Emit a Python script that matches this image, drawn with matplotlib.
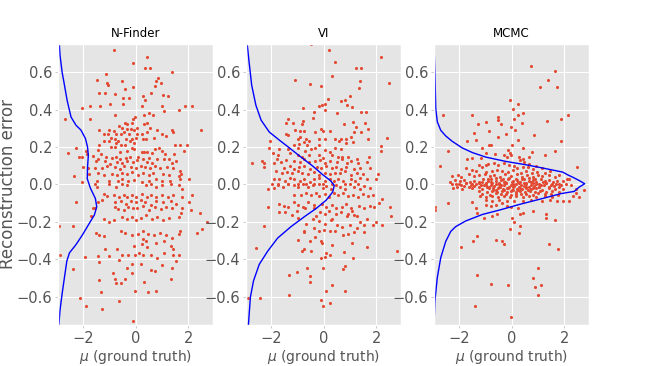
import matplotlib
matplotlib.use("Agg")
import matplotlib.pyplot as plt

plt.style.use("ggplot")

# ------------------------------
# data
# ------------------------------
titles = ["N-Finder", "VI", "MCMC"]
y_ticks = [-0.6, -0.4, -0.2, 0.0, 0.2, 0.4, 0.6]
x_ticks = [-2, 0, 2]

# scatter points (mu, reconstruction error)
nf_points = [
    (-0.82, 0.72), (0.41, 0.68), (-0.10, 0.65), (0.35, 0.62), (0.53, 0.62), (1.39, 0.60),
    (-1.15, 0.59), (0.86, 0.57), (-1.47, 0.56), (-0.53, 0.55), (0.76, 0.55), (0.96, 0.54),
    (-1.11, 0.54), (-1.05, 0.53), (0.72, 0.525), (-0.10, 0.52), (-0.41, 0.51), (-1.42, 0.49),
    (-1.18, 0.49), (-0.78, 0.485), (0.59, 0.49), (1.04, 0.48), (1.23, 0.47), (0.27, 0.47),
    (-0.49, 0.46), (-0.27, 0.46), (0.35, 0.45), (-0.49, 0.43), (0.23, 0.42), (-1.73, 0.42),
    (-1.35, 0.42), (-0.99, 0.43), (-2.05, 0.41), (1.00, 0.42), (1.87, 0.42), (2.15, 0.42),
    (1.66, 0.40), (1.06, 0.39), (-0.80, 0.37), (-2.71, 0.35), (-0.03, 0.36), (-0.10, 0.35),
    (0.51, 0.38), (0.32, 0.37), (0.67, 0.37), (-1.75, 0.35), (-0.43, 0.33), (-0.34, 0.32),
    (-0.14, 0.33), (0.41, 0.33), (0.33, 0.32), (0.04, 0.30), (-0.05, 0.29), (-0.19, 0.295),
    (-0.63, 0.31), (-0.53, 0.30), (-0.35, 0.295), (-1.39, 0.29), (-1.03, 0.29), (-0.84, 0.285),
    (-0.76, 0.27), (0.82, 0.29), (0.54, 0.30), (1.37, 0.29), (1.43, 0.28), (2.49, 0.29),
    (-1.22, 0.27), (-1.06, 0.27), (-0.56, 0.27), (-0.44, 0.28), (-0.25, 0.27), (0.04, 0.27),
    (0.22, 0.27), (0.44, 0.28), (0.71, 0.25), (1.01, 0.27), (1.14, 0.26), (-0.95, 0.25),
    (-0.81, 0.245), (-0.68, 0.23), (-0.38, 0.245), (-0.16, 0.24), (0.01, 0.25), (0.28, 0.24),
    (0.38, 0.245), (-1.23, 0.23), (-1.01, 0.23), (-0.76, 0.22), (-0.57, 0.21), (-0.42, 0.21),
    (-0.23, 0.23), (-0.08, 0.22), (1.48, 0.21), (1.67, 0.21), (1.95, 0.21), (-1.41, 0.21),
    (-0.96, 0.20), (-0.78, 0.20), (-2.28, 0.195), (-0.16, 0.195), (-0.08, 0.19), (0.75, 0.19),
    (0.90, 0.195), (1.01, 0.18), (-2.58, 0.17), (-1.89, 0.18), (-1.86, 0.165), (-1.43, 0.185),
    (-1.33, 0.16), (-0.59, 0.175), (-0.34, 0.18), (0.23, 0.175), (0.33, 0.175), (0.44, 0.175),
    (0.63, 0.17), (1.10, 0.16), (1.47, 0.16), (1.84, 0.18), (-2.15, 0.145), (-2.04, 0.145),
    (-1.65, 0.15), (-1.43, 0.135), (-1.14, 0.145), (-0.92, 0.14), (-0.76, 0.145), (-0.59, 0.135),
    (-0.39, 0.14), (-0.23, 0.145), (0.10, 0.145), (0.28, 0.135), (0.51, 0.14), (0.80, 0.135),
    (1.08, 0.135), (1.27, 0.135), (-1.51, 0.125), (-1.19, 0.125), (-0.99, 0.11), (-0.70, 0.12),
    (-0.51, 0.115), (-0.32, 0.125), (-0.10, 0.12), (0.06, 0.13), (0.41, 0.12), (0.61, 0.115),
    (1.37, 0.115), (1.52, 0.125), (-2.03, 0.095), (-1.82, 0.09), (-1.54, 0.09), (-1.27, 0.09),
    (-1.08, 0.10), (-0.78, 0.095), (-0.61, 0.085), (-0.44, 0.10), (-0.18, 0.095), (0.00, 0.09),
    (0.19, 0.10), (0.35, 0.095), (0.54, 0.09), (0.72, 0.10), (0.91, 0.09), (1.20, 0.095),
    (1.42, 0.09), (1.70, 0.07), (1.71, 0.055), (-2.34, 0.045), (-1.77, 0.055), (-1.46, 0.06),
    (-1.23, 0.05), (-0.91, 0.055), (-0.72, 0.05), (-0.51, 0.06), (-0.32, 0.055), (-0.15, 0.065),
    (0.09, 0.05), (0.28, 0.06), (0.49, 0.05), (0.66, 0.06), (1.04, 0.055), (1.27, 0.05),
    (1.65, 0.045), (-2.06, 0.012), (-1.47, 0.016), (-1.04, 0.02), (-0.66, 0.02), (-0.52, 0.027),
    (-0.28, 0.016), (-0.08, 0.025), (0.23, 0.012), (0.51, 0.02), (0.76, 0.027), (0.99, 0.02),
    (1.30, 0.02), (1.67, 0.027), (2.03, 0.027),
    (-1.54, 0.00), (-1.47, -0.012), (-1.01, 0.00), (-0.76, -0.012), (-0.51, 0.00), (-0.32, -0.002),
    (0.38, -0.005), (0.57, 0.004), (0.76, -0.012), (0.99, -0.005), (1.33, 0.004), (1.65, -0.005),
    (1.77, -0.023), (-1.20, -0.05), (-1.08, -0.06), (-0.82, -0.058), (-0.63, -0.068), (-2.28, -0.093),
    (-0.44, -0.054), (-0.32, -0.067), (-0.15, -0.058), (0.00, -0.067), (0.23, -0.05), (0.41, -0.065),
    (0.57, -0.054), (0.76, -0.065), (1.01, -0.054), (1.24, -0.067), (1.42, -0.058), (1.77, -0.067),
    (2.15, -0.054), (-1.46, -0.093), (-1.29, -0.084), (-0.78, -0.096), (-0.57, -0.089), (-0.38, -0.103),
    (-0.19, -0.089), (0.00, -0.096), (0.19, -0.084), (0.35, -0.096), (0.57, -0.107), (0.76, -0.089),
    (1.04, -0.096), (1.33, -0.089), (1.52, -0.103), (2.03, -0.093), (-1.71, -0.17), (-1.65, -0.125),
    (-1.54, -0.128), (-0.78, -0.12), (-0.66, -0.13), (-0.44, -0.137), (-0.28, -0.12), (-0.10, -0.128),
    (0.06, -0.125), (0.28, -0.114), (0.51, -0.137), (0.73, -0.12), (0.95, -0.13), (1.14, -0.12),
    (1.37, -0.128), (1.75, -0.125), (2.09, -0.137), (2.43, -0.15), (-1.20, -0.184), (-1.01, -0.202),
    (-0.82, -0.19), (-0.53, -0.172), (-0.35, -0.184), (-0.15, -0.172), (0.00, -0.19), (0.19, -0.18),
    (0.38, -0.163), (0.61, -0.184), (0.82, -0.172), (1.04, -0.19), (1.27, -0.177), (1.65, -0.172),
    (1.71, -0.154), (1.67, -0.247), (2.34, -0.26), (2.51, -0.237), (2.72, -0.202), (-2.91, -0.22),
    (-2.41, -0.22), (-1.52, -0.26), (-1.42, -0.268), (-1.20, -0.277), (-0.57, -0.25), (-0.41, -0.26),
    (-0.13, -0.268), (0.10, -0.265), (0.28, -0.25), (0.48, -0.265), (0.70, -0.268), (0.91, -0.26),
    (1.14, -0.272), (1.39, -0.286), (1.65, -0.265), (0.28, -0.29), (0.38, -0.30), (0.23, -0.32),
    (0.44, -0.335), (0.76, -0.312), (1.08, -0.30), (1.33, -0.33), (1.42, -0.347), (-1.16, -0.347),
    (-0.70, -0.347), (-0.06, -0.33), (0.13, -0.365), (-0.53, -0.374), (-0.28, -0.377), (-0.03, -0.377),
    (0.28, -0.377), (0.57, -0.377), (0.82, -0.395), (1.08, -0.365), (1.42, -0.377), (1.65, -0.377),
    (-1.92, -0.388), (-1.46, -0.382), (-1.01, -0.382), (-0.63, -0.405), (-2.89, -0.377), (-1.42, -0.414),
    (-0.32, -0.447), (-0.13, -0.423), (-0.13, -0.475), (0.19, -0.426), (0.57, -0.458), (0.73, -0.461),
    (1.01, -0.43), (1.39, -0.444), (1.52, -0.409), (-2.38, -0.453), (-0.86, -0.47), (-0.78, -0.507),
    (-0.76, -0.525), (-1.39, -0.51), (-1.32, -0.572), (-0.57, -0.528), (-0.41, -0.507), (-0.03, -0.567),
    (0.32, -0.523), (0.48, -0.575), (0.78, -0.567), (1.33, -0.502), (-2.13, -0.607), (-1.90, -0.647),
    (-1.29, -0.663), (-0.63, -0.623), (-0.09, -0.73),
]

vi_points = [
    (-0.48, 0.748), (0.18, 0.72), (2.17, 0.68), (0.41, 0.655), (1.43, 0.623), (1.24, 0.62),
    (0.32, 0.577), (-1.10, 0.555), (1.38, 0.554), (2.47, 0.543), (-0.54, 0.534), (-0.09, 0.525),
    (1.35, 0.516), (1.01, 0.471), (0.15, 0.455), (0.80, 0.45), (0.64, 0.446), (0.06, 0.427),
    (-0.08, 0.423), (-0.20, 0.42), (0.89, 0.423), (1.07, 0.416), (-0.79, 0.409), (0.05, 0.396),
    (-0.39, 0.388), (0.52, 0.382), (1.40, 0.388), (1.62, 0.388), (-1.38, 0.352), (-1.17, 0.33),
    (-1.43, 0.327), (-0.43, 0.355), (1.11, 0.334), (-0.79, 0.338), (-0.84, 0.32), (0.76, 0.323),
    (1.58, 0.327), (1.22, 0.305), (1.69, 0.298), (-1.10, 0.288), (-0.90, 0.284), (-0.75, 0.284),
    (-0.10, 0.298), (-0.04, 0.284), (-0.33, 0.28), (0.25, 0.284), (-1.43, 0.27), (-1.35, 0.263),
    (1.17, 0.28), (1.43, 0.28), (-0.97, 0.241), (-0.68, 0.245), (-0.55, 0.234), (-0.89, 0.254),
    (-0.76, 0.227), (-0.20, 0.241), (0.03, 0.241), (-0.20, 0.213), (0.41, 0.245), (0.66, 0.245),
    (0.84, 0.245), (1.02, 0.252), (0.59, 0.234), (1.69, 0.245), (2.42, 0.248), (-2.05, 0.23),
    (0.83, 0.223), (1.12, 0.227), (-1.15, 0.209), (-0.93, 0.216), (-0.64, 0.209), (-2.08, 0.195),
    (2.17, 0.205), (2.17, 0.177), (-1.71, 0.191), (-1.38, 0.188), (-1.29, 0.17), (-0.99, 0.195),
    (-0.71, 0.18), (-0.48, 0.188), (-0.33, 0.195), (0.03, 0.182), (0.22, 0.173), (0.43, 0.195),
    (0.66, 0.188), (-1.76, 0.155), (-1.95, 0.17), (-0.99, 0.155), (-0.82, 0.148), (-0.55, 0.155),
    (-0.17, 0.159), (-0.04, 0.141), (0.31, 0.159), (0.54, 0.145), (0.71, 0.145), (0.94, 0.148),
    (1.27, 0.138), (1.71, 0.146), (-2.37, 0.127), (-2.27, 0.116), (-2.73, 0.116), (-1.91, 0.116),
    (-1.78, 0.134), (-1.63, 0.12), (-1.44, 0.13), (-1.12, 0.123), (-0.89, 0.12), (-0.74, 0.134),
    (-0.55, 0.12), (-0.33, 0.123), (-0.13, 0.13), (0.05, 0.116), (0.23, 0.127), (0.50, 0.12),
    (0.70, 0.134), (0.88, 0.116), (1.04, 0.127), (1.32, 0.113), (1.63, 0.12), (-2.27, 0.091),
    (-1.50, 0.088), (-1.30, 0.098), (-1.12, 0.084), (-0.93, 0.093), (-0.74, 0.098), (-0.51, 0.084),
    (-0.25, 0.091), (-0.10, 0.088), (0.09, 0.098), (0.31, 0.088), (0.48, 0.091), (0.66, 0.08),
    (0.85, 0.093), (1.15, 0.084), (1.38, 0.088), (1.76, 0.088), (-1.81, 0.07), (-1.61, 0.063),
    (-1.40, 0.066), (-1.22, 0.059), (-0.99, 0.07), (-0.84, 0.063), (-0.61, 0.055), (-0.38, 0.066),
    (-0.18, 0.052), (0.03, 0.063), (0.23, 0.055), (0.41, 0.063), (0.61, 0.059), (0.79, 0.07),
    (1.02, 0.052), (1.25, 0.063), (1.50, 0.055), (2.06, 0.054), (-1.89, 0.027), (-1.71, 0.027),
    (-1.48, 0.016), (-1.27, 0.034), (-1.12, 0.027), (-0.92, 0.02), (-0.74, 0.03), (-0.54, 0.0125),
    (-0.36, 0.027), (-0.18, 0.034), (0.05, 0.02), (0.23, 0.027), (0.38, 0.016), (0.54, 0.03),
    (0.74, 0.02), (1.02, 0.027), (1.20, 0.02), (1.38, 0.034), (1.66, 0.027), (1.99, 0.03),
    (-1.96, 0.005), (-1.76, 0.005), (-1.38, 0.004), (-0.99, 0.004), (-0.68, 0.005), (-0.36, 0.005),
    (-0.04, 0.004), (0.31, 0.005), (0.79, 0.005), (1.30, 0.005),
    (-2.11, -0.026), (-1.91, -0.019), (-1.76, -0.002), (-1.55, -0.012), (-1.35, 0.005), (-1.15, -0.002),
    (-0.99, -0.012), (-0.79, 0.002), (-0.61, -0.016), (-0.43, -0.005), (-0.20, 0.005), (-0.03, -0.019),
    (0.10, -0.009), (0.28, -0.026), (0.46, -0.002), (0.61, -0.016), (0.79, -0.023), (0.99, 0.002),
    (1.17, -0.012), (1.38, -0.023), (1.55, -0.009), (1.78, -0.019), (1.86, -0.054), (2.22, -0.079),
    (2.55, -0.167), (2.52, -0.121), (-1.15, -0.054), (-0.87, -0.058), (-0.66, -0.044), (-0.48, -0.054),
    (-0.31, -0.047), (-0.18, -0.061), (0.03, -0.051), (0.20, -0.065), (0.38, -0.047), (0.54, -0.058),
    (0.74, -0.044), (0.92, -0.061), (1.12, -0.054), (1.30, -0.068), (1.50, -0.051), (1.68, -0.061),
    (1.76, -0.114), (1.91, -0.118), (2.11, -0.10), (-2.11, -0.119), (-1.71, -0.104), (-1.50, -0.114),
    (-1.35, -0.118), (-1.15, -0.096), (-0.97, -0.111), (-0.79, -0.121), (-0.61, -0.096), (-0.36, -0.107),
    (-0.08, -0.104), (0.10, -0.118), (0.31, -0.111), (0.48, -0.128), (0.69, -0.118), (0.84, -0.104),
    (1.02, -0.125), (1.17, -0.163), (1.35, -0.114), (1.55, -0.128), (0.92, -0.16), (-1.71, -0.149),
    (-1.48, -0.146), (-1.22, -0.163), (-1.04, -0.139), (-0.71, -0.125), (-0.36, -0.128), (-0.31, -0.17),
    (-0.15, -0.146), (0.03, -0.16), (0.20, -0.139), (0.31, -0.184), (0.48, -0.156), (0.66, -0.149),
    (0.89, -0.167), (1.07, -0.139), (1.25, -0.167), (1.38, -0.202), (1.55, -0.216), (1.66, -0.184),
    (1.89, -0.216), (1.99, -0.202), (2.22, -0.216), (-2.29, -0.219), (-0.99, -0.177), (-0.66, -0.212),
    (-0.43, -0.184), (-0.20, -0.195), (0.03, -0.209), (0.28, -0.188), (0.51, -0.216), (0.71, -0.226),
    (0.99, -0.216), (1.27, -0.233), (-0.76, -0.247), (-0.74, -0.254), (-0.36, -0.233), (-0.20, -0.251),
    (0.00, -0.244), (0.25, -0.251), (0.43, -0.247), (0.74, -0.272), (0.94, -0.265), (1.17, -0.254),
    (1.53, -0.254), (-0.97, -0.296), (-0.54, -0.30), (-0.33, -0.282), (-0.10, -0.30), (-0.05, -0.311),
    (0.31, -0.321), (1.07, -0.314), (1.66, -0.332), (-0.74, -0.342), (-0.84, -0.353), (-0.48, -0.353),
    (0.10, -0.367), (0.25, -0.374), (0.03, -0.388), (-0.10, -0.391), (0.76, -0.36), (1.10, -0.391),
    (2.78, -0.353), (-2.60, -0.339), (-0.64, -0.444), (-0.03, -0.447), (-1.02, -0.468), (-1.32, -0.482),
    (0.74, -0.451), (0.79, -0.437), (-0.51, -0.489), (-0.54, -0.518), (0.33, -0.535), (0.10, -0.57),
    (0.80, -0.57), (-1.32, -0.591), (-2.42, -0.605), (-2.89, -0.607), (-0.10, -0.616), (-0.03, -0.649),
    (0.25, -0.633),
]

mc_points = [
    (0.74, 0.634), (1.66, 0.607), (1.38, 0.555), (1.07, 0.52), (1.71, 0.521), (-0.06, 0.45),
    (0.24, 0.427), (0.03, 0.405), (-2.62, 0.373), (-1.50, 0.37), (0.25, 0.373), (0.41, 0.379),
    (2.15, 0.373), (-0.51, 0.359), (-0.51, 0.345), (0.08, 0.348), (1.36, 0.341), (1.86, 0.348),
    (-1.29, 0.323), (-0.99, 0.334), (0.38, 0.33), (-0.04, 0.309), (-0.42, 0.32), (-0.87, 0.286),
    (-1.43, 0.275), (0.13, 0.289), (-0.24, 0.271), (0.84, 0.266), (-0.54, 0.252), (-1.38, 0.239),
    (-1.71, 0.232), (0.25, 0.236), (1.86, 0.23), (-0.87, 0.209), (-0.79, 0.209), (0.00, 0.209),
    (-1.12, 0.195), (0.43, 0.195), (-2.42, 0.177), (-0.13, 0.184), (-0.08, 0.168), (0.76, 0.173),
    (1.66, 0.18), (-0.97, 0.17), (-0.64, 0.164), (-0.31, 0.159), (1.27, 0.159), (-1.50, 0.141),
    (-1.18, 0.141), (-1.72, 0.134), (-0.18, 0.146), (-0.04, 0.155), (0.27, 0.145), (0.41, 0.134),
    (0.64, 0.146), (-0.66, 0.116), (-0.89, 0.111), (-0.54, 0.102), (-1.25, 0.105), (-0.99, 0.105),
    (-1.15, 0.093), (-1.76, 0.088), (-2.75, 0.098), (2.48, 0.095), (-0.31, 0.116), (-0.10, 0.105),
    (0.31, 0.129), (0.48, 0.12), (0.66, 0.111), (0.09, 0.098), (0.20, 0.088), (0.41, 0.091),
    (0.61, 0.095), (0.79, 0.084), (0.94, 0.098), (1.15, 0.088), (-1.50, 0.077), (-1.35, 0.073),
    (-0.99, 0.066), (-0.76, 0.07), (-0.56, 0.077), (-0.36, 0.073), (-0.15, 0.066), (0.05, 0.077),
    (0.36, 0.063), (0.56, 0.07), (0.76, 0.059), (0.97, 0.066), (1.25, 0.059), (1.45, 0.07),
    (2.09, 0.03), (2.19, 0.027),
    (-2.29, 0.046), (-2.06, 0.052), (-1.94, 0.041), (-1.63, 0.055), (-1.43, 0.044), (-1.25, 0.05),
    (-1.02, 0.057), (-0.84, 0.043), (-0.66, 0.05), (-0.46, 0.04), (-0.25, 0.054), (-0.03, 0.046),
    (0.18, 0.056), (0.38, 0.042), (0.59, 0.051), (0.79, 0.04), (0.99, 0.053), (1.17, 0.045),
    (1.43, 0.05), (1.63, 0.041), (1.81, 0.048),
    (-2.37, 0.015), (-2.17, 0.022), (-1.96, 0.018), (-1.81, 0.026), (-1.61, 0.014), (-1.45, 0.021),
    (-1.25, 0.013), (-1.10, 0.027), (-0.92, 0.019), (-0.79, 0.03), (-0.61, 0.018), (-0.43, 0.025),
    (-0.28, 0.014), (-0.13, 0.03), (0.03, 0.019), (0.18, 0.026), (0.33, 0.013), (0.48, 0.03),
    (0.64, 0.018), (0.79, 0.025), (0.94, 0.014), (1.10, 0.029), (1.25, 0.019), (1.40, 0.025),
    (1.58, 0.014), (1.73, 0.021), (1.94, 0.017),
    (-2.27, 0.004), (-2.01, 0.0), (-1.76, 0.007), (-1.50, 0.002), (-1.25, 0.006), (-0.99, -0.002),
    (-0.74, 0.006), (-0.48, 0.001), (-0.23, 0.007), (0.03, 0.002), (0.28, 0.006), (0.54, 0.0),
    (0.79, 0.007), (1.04, 0.002), (1.30, 0.006), (1.55, 0.0), (1.81, 0.005),
    (-2.14, 0.004), (-1.95, -0.002), (-1.76, 0.006), (-1.57, -0.003), (-1.38, 0.005), (-1.18, -0.004),
    (-0.99, 0.007), (-0.80, -0.002), (-0.61, 0.005), (-0.42, -0.003), (-0.23, 0.006), (-0.04, -0.002),
    (0.15, 0.004), (0.34, -0.004), (0.54, 0.006), (0.73, -0.001), (0.92, 0.005), (1.11, -0.003),
    (1.30, 0.006), (1.49, -0.002), (1.68, 0.004), (1.87, -0.003), (2.06, 0.005), (2.25, -0.001),
    (-2.08, -0.012), (-1.82, -0.006), (-1.63, -0.013), (-1.44, -0.007), (-1.25, -0.012), (-1.06, -0.005),
    (-0.87, -0.014), (-0.68, -0.008), (-0.48, -0.011), (-0.29, -0.005), (-0.10, -0.013), (0.09, -0.007),
    (0.28, -0.012), (0.47, -0.006), (0.66, -0.014), (0.85, -0.008), (1.04, -0.012), (1.24, -0.005),
    (1.43, -0.013), (1.62, -0.008), (1.81, -0.011),
    (-2.24, -0.021), (-1.89, -0.026), (-1.50, -0.02), (-1.12, -0.025), (-0.87, -0.019), (-0.71, -0.027),
    (-0.51, -0.021), (-0.33, -0.025), (-0.15, -0.019), (0.03, -0.027), (0.20, -0.022), (0.38, -0.026),
    (0.56, -0.02), (0.74, -0.025), (0.94, -0.021), (1.17, -0.027), (1.40, -0.02), (1.66, -0.024),
    (1.94, -0.022),
    (-1.25, -0.035), (-0.93, -0.04), (-0.74, -0.034), (-0.55, -0.039), (-0.38, -0.036), (-0.20, -0.041),
    (-0.03, -0.034), (0.15, -0.039), (0.33, -0.036), (0.51, -0.04), (0.69, -0.035), (0.87, -0.038),
    (1.07, -0.034), (1.30, -0.04), (1.55, -0.036), (1.81, -0.039),
    (-1.12, -0.05), (-0.84, -0.054), (-0.61, -0.048), (-0.41, -0.053), (-0.23, -0.05), (-0.03, -0.055),
    (0.15, -0.049), (0.36, -0.053), (0.56, -0.05), (0.79, -0.054), (0.99, -0.048), (1.25, -0.052),
    (1.50, -0.05), (1.78, -0.054),
    (-1.22, -0.064), (-0.99, -0.068), (-0.76, -0.062), (-0.54, -0.067), (-0.31, -0.063), (-0.08, -0.068),
    (0.15, -0.064), (0.41, -0.067), (0.66, -0.062), (0.94, -0.066), (1.25, -0.064), (1.53, -0.068),
    (2.32, -0.064), (2.57, -0.067),
    (-0.99, -0.085), (-0.74, -0.089), (-0.48, -0.084), (-0.20, -0.088), (0.10, -0.086), (0.41, -0.09),
    (0.74, -0.085), (1.17, -0.088), (1.45, -0.084), (1.71, -0.089), (1.96, -0.086), (2.19, -0.088),
    (-0.90, 0.03), (-0.60, 0.033), (-0.35, 0.028), (-0.10, 0.034), (0.15, 0.031), (0.40, 0.027),
    (0.65, 0.033), (0.90, 0.03), (-0.95, -0.016), (-0.70, -0.018), (-0.45, -0.014), (-0.20, -0.017),
    (0.05, -0.015), (0.30, -0.018), (0.55, -0.014), (0.80, -0.017), (1.05, -0.016), (-1.15, 0.011),
    (-0.80, 0.013), (-0.50, 0.01), (-0.25, 0.012), (0.00, 0.011), (0.22, 0.014), (0.47, 0.01),
    (0.72, 0.012), (1.20, 0.011), (-0.60, -0.03), (-0.30, -0.029), (0.00, -0.031), (0.25, -0.03),
    (0.60, -0.028),
    (-2.42, -0.10), (-2.93, -0.121), (-2.91, -0.135), (2.45, -0.026), (2.76, -0.032), (2.45, -0.044),
    (-1.53, -0.093), (-1.35, -0.125), (-1.32, -0.153), (-0.99, -0.107), (-0.79, -0.114), (-0.61, -0.111),
    (-0.38, -0.10), (-0.18, -0.114), (-0.03, -0.121), (0.25, -0.128), (0.41, -0.153), (0.31, -0.156),
    (0.79, -0.142), (-0.76, -0.167), (-1.07, -0.181), (-0.56, -0.16), (0.00, -0.177), (1.32, -0.156),
    (1.32, -0.181), (1.66, -0.188), (0.08, -0.202), (0.31, -0.219), (-0.08, -0.237), (0.28, -0.261),
    (-1.32, -0.275), (-1.48, -0.30), (-0.59, -0.295), (-0.36, -0.30), (-0.28, -0.318), (1.40, -0.318),
    (-1.94, -0.332), (1.78, -0.346), (0.99, -0.447), (-1.32, -0.482), (0.79, -0.50), (-0.79, -0.532),
    (-0.13, -0.537), (0.89, -0.549), (1.10, -0.539), (0.99, -0.591), (-1.40, -0.651), (-0.03, -0.707),
]

# blue density curves, (reconstruction error, curve position)
nf_curve = [
    (0.76, -2.92), (0.69, -2.89), (0.60, -2.81), (0.53, -2.72), (0.45, -2.62), (0.36, -2.47),
    (0.316, -2.28), (0.29, -2.09), (0.245, -1.92), (0.20, -1.84), (0.155, -1.81), (0.093, -1.84),
    (0.03, -1.85), (-0.02, -1.73), (-0.075, -1.54), (-0.119, -1.49), (-0.163, -1.58), (-0.207, -1.77),
    (-0.268, -2.03), (-0.321, -2.28), (-0.365, -2.53), (-0.409, -2.63), (-0.496, -2.72), (-0.584, -2.81),
    (-0.672, -2.89), (-0.76, -2.94),
]
vi_curve = [
    (0.76, -2.93), (0.655, -2.85), (0.53, -2.75), (0.423, -2.59), (0.343, -2.39), (0.28, -2.08),
    (0.236, -1.69), (0.195, -1.31), (0.146, -0.87), (0.098, -0.42), (0.052, -0.04), (0.021, 0.25),
    (-0.005, 0.40), (-0.04, 0.34), (-0.084, 0.09), (-0.128, -0.29), (-0.172, -0.74), (-0.225, -1.25),
    (-0.286, -1.76), (-0.356, -2.14), (-0.426, -2.46), (-0.514, -2.68), (-0.602, -2.80), (-0.76, -2.88),
]
mc_curve = [
    (0.76, -2.97), (0.584, -2.93), (0.405, -2.90), (0.334, -2.84), (0.289, -2.71), (0.259, -2.52),
    (0.23, -2.27), (0.195, -1.89), (0.17, -1.50), (0.146, -0.99), (0.123, -0.23), (0.105, 0.54),
    (0.088, 1.17), (0.066, 1.94), (0.05, 2.15), (0.039, 2.32), (0.021, 2.57), (0.004, 2.78),
    (-0.014, 2.57), (-0.037, 2.38), (-0.049, 1.87), (-0.075, 1.17), (-0.107, 0.28), (-0.137, -0.48),
    (-0.16, -1.12), (-0.195, -1.76), (-0.225, -2.14), (-0.251, -2.33), (-0.304, -2.52), (-0.391, -2.71),
    (-0.496, -2.84), (-0.619, -2.93), (-0.76, -2.97),
]

# ------------------------------
# figure
# ------------------------------
fig, axes = plt.subplots(1, 3, figsize=(6.58, 3.66), dpi=100)
fig.subplots_adjust(left=0.088, right=0.895, bottom=0.112, top=0.88, wspace=0.213)

for ax, title, pts, curve in zip(axes, titles,
                                 [nf_points, vi_points, mc_points],
                                 [nf_curve, vi_curve, mc_curve]):
    px, py = zip(*pts)
    ax.scatter(px, py, s=5, color="#E24A33", linewidths=0)
    cy, cx = zip(*curve)
    ax.plot(cx, cy, color="blue", lw=1.0)
    ax.set_xlim(-2.97, 2.94)
    ax.set_ylim(-0.75, 0.75)
    ax.set_xticks(x_ticks)
    ax.set_yticks(y_ticks)
    ax.tick_params(labelsize=10.5, length=2, pad=2, color="#CCCCCC")
    ax.set_title(title, fontsize=8.5, color="black", pad=5)
    ax.set_xlabel(r"$\mu$ (ground truth)", fontsize=10, labelpad=2)

axes[0].set_ylabel("Reconstruction error", fontsize=12, labelpad=0)

fig.savefig("out.png", dpi=100)
